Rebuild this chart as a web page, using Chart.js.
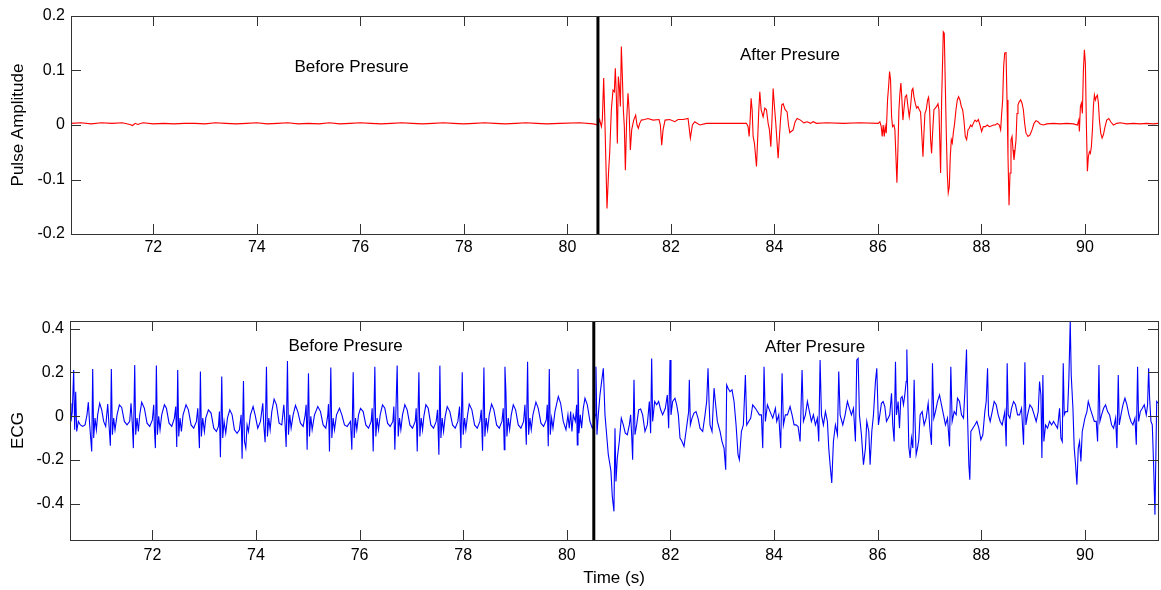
<!DOCTYPE html>
<html>
<head>
<meta charset="utf-8">
<script src="https://cdn.jsdelivr.net/npm/chart.js@4.4.1/dist/chart.umd.min.js"></script>
<style>
  html, body { margin: 0; padding: 0; background: #fff; }
  #wrap { position: relative; width: 1161px; height: 590px; }
  .box { position: absolute; left: 0; width: 1161px; }
</style>
</head>
<body>
<div id="wrap">
  <div class="box" style="top:0;height:290px"><canvas id="pulseChart" width="1161" height="290"></canvas></div>
  <div class="box" style="top:290px;height:300px"><canvas id="ecgChart" width="1161" height="300"></canvas></div>
</div>
<script>
// time axis (s)
var timeMin = 70.41;
var timeMax = 91.41;
var timeTicks = [72, 74, 76, 78, 80, 82, 84, 86, 88, 90];

// pulse amplitude axis
var pulseMin = -0.2;
var pulseMax = 0.2;
var pulseTicks = [-0.2, -0.1, 0, 0.1, 0.2];

// ecg axis
var ecgMin = -0.566;
var ecgMax = 0.435;
var ecgTicks = [-0.4, -0.2, 0, 0.2, 0.4];

// moment the pressure was applied
var pressTimePulse = 80.59;
var pressTimeEcg = 80.52;

// pulse signal [time, amplitude]
var pulsePoints = [
  [70.41,0.003],[70.6,0.004],[70.8,0.002],[71.0,0.004],[71.2,0.003],[71.4,0.004],[71.55,0.001],[71.6,-0.001],
  [71.65,0.003],[71.7,0.001],[71.8,0.004],[72.0,0.002],[72.2,0.003],[72.4,0.002],[72.6,0.003],[72.8,0.003],
  [73.0,0.002],[73.2,0.004],[73.4,0.003],[73.6,0.002],[73.8,0.003],[74.0,0.004],[74.2,0.002],[74.4,0.003],
  [74.6,0.004],[74.8,0.002],[75.0,0.003],[75.2,0.002],[75.4,0.004],[75.6,0.002],[75.8,0.003],[76.0,0.004],
  [76.2,0.003],[76.4,0.002],[76.6,0.003],[76.8,0.004],[77.0,0.003],[77.2,0.002],[77.4,0.003],[77.6,0.004],
  [77.8,0.003],[78.0,0.002],[78.2,0.003],[78.4,0.004],[78.6,0.003],[78.8,0.002],[79.0,0.003],[79.2,0.004],
  [79.4,0.003],[79.6,0.002],[79.85,0.003],[80.24,0.004],[80.5,0.002],
  [80.591,0.000],[80.623,0.010],[80.656,-0.003],[80.675,0.009],[80.701,0.086],[80.727,-0.003],[80.765,-0.153],
  [80.797,-0.083],[80.817,-0.052],[80.849,0.028],[80.881,0.064],[80.907,0.061],[80.926,0.104],[80.946,0.052],
  [80.965,-0.034],[80.984,0.089],[81.004,0.070],[81.023,0.034],[81.042,0.144],[81.062,0.089],[81.081,0.028],
  [81.100,-0.003],[81.120,-0.083],[81.145,0.009],[81.171,0.058],[81.191,0.028],[81.216,-0.046],[81.242,-0.009],
  [81.281,0.009],[81.319,0.018],[81.345,0.000],[81.371,-0.006],[81.397,0.003],[81.429,0.009],[81.493,0.010],
  [81.558,0.012],[81.655,0.009],[81.771,0.010],[81.796,0.000],[81.822,-0.037],[81.848,-0.009],[81.887,0.009],
  [81.977,0.010],[82.074,0.006],[82.138,0.010],[82.235,0.010],[82.331,0.012],[82.376,-0.024],[82.415,0.000],
  [82.460,0.006],[82.557,0.000],[82.686,0.003],[82.879,0.003],[83.201,0.003],[83.459,0.003],[83.491,-0.003],
  [83.511,-0.021],[83.530,0.009],[83.549,0.049],[83.569,0.028],[83.588,-0.021],[83.614,-0.034],[83.653,-0.076],
  [83.678,-0.021],[83.698,0.028],[83.717,0.061],[83.743,0.028],[83.781,0.015],[83.814,0.031],[83.846,0.028],
  [83.878,0.003],[83.904,-0.009],[83.930,-0.040],[83.955,0.015],[83.975,0.067],[84.000,0.034],[84.026,0.003],
  [84.052,-0.034],[84.071,-0.061],[84.097,-0.021],[84.117,0.009],[84.142,0.037],[84.168,0.039],[84.207,0.028],
  [84.245,0.024],[84.271,0.000],[84.297,-0.014],[84.361,-0.009],[84.400,0.006],[84.439,0.012],[84.503,0.009],
  [84.568,0.004],[84.632,0.006],[84.697,0.003],
  [84.748,0.006],[84.813,0.003],[85.006,0.004],[85.328,0.003],[85.650,0.004],[86.005,0.003],[86.037,0.006],
  [86.063,-0.003],[86.082,-0.021],[86.101,0.000],[86.121,-0.021],[86.140,-0.003],[86.160,-0.015],[86.185,0.046],
  [86.205,0.070],[86.224,0.098],[86.243,0.083],[86.263,0.015],[86.282,-0.003],[86.308,0.000],[86.327,-0.009],
  [86.347,-0.058],[86.366,-0.106],[86.385,-0.046],[86.405,0.028],[86.424,0.058],[86.443,0.077],[86.463,0.046],
  [86.482,0.009],[86.501,0.028],[86.527,0.052],[86.553,0.055],[86.579,0.034],[86.604,0.015],[86.630,0.034],
  [86.656,0.064],[86.675,0.067],[86.695,0.052],[86.720,0.040],[86.746,0.031],[86.772,0.034],[86.798,0.028],
  [86.823,0.024],[86.849,-0.021],[86.869,-0.058],[86.888,-0.015],[86.907,0.021],[86.933,0.028],[86.959,0.046],
  [86.978,0.051],[86.998,0.028],[87.017,-0.027],[87.036,-0.052],[87.055,-0.015],[87.081,0.028],[87.107,0.031],
  [87.133,0.034],[87.159,0.039],[87.178,0.028],[87.197,-0.040],[87.210,-0.088],[87.230,0.046],[87.249,0.119],
  [87.262,0.171],[87.281,0.168],[87.300,0.077],[87.320,-0.015],[87.339,-0.088],[87.358,-0.124],[87.378,-0.113],
  [87.397,-0.058],[87.417,-0.027],[87.436,-0.033],[87.455,-0.015],[87.481,0.003],[87.507,0.028],[87.533,0.046],
  [87.558,0.052],[87.584,0.046],[87.610,0.034],[87.636,0.028],[87.661,0.009],[87.687,-0.021],[87.713,-0.027],
  [87.739,-0.009],[87.764,-0.006],[87.790,0.000],[87.816,-0.003],[87.842,0.003],[87.874,0.009],[87.906,0.006],
  [87.938,0.010],[87.971,0.000],[88.003,-0.012],[88.035,-0.003],[88.074,-0.003],[88.112,0.000],[88.151,-0.003],
  [88.190,-0.002],[88.228,0.000],[88.267,0.000],[88.306,0.003],[88.345,0.000],[88.370,-0.009],[88.390,0.021],
  [88.409,0.046],[88.428,0.107],[88.448,0.132],[88.474,0.133],[88.493,0.046],[88.512,-0.058],[88.532,-0.147],
  [88.551,-0.088],[88.570,-0.027],[88.590,-0.021],[88.609,-0.046],[88.628,-0.064],[88.648,-0.046],[88.667,-0.027],
  [88.686,0.021],[88.705,0.037],[88.731,0.043],[88.757,0.046],[88.783,0.040],[88.809,0.028],[88.834,0.003],
  [88.860,-0.015],[88.899,-0.021],[88.937,-0.018],[88.976,-0.009],[89.015,0.003],[89.054,0.008],[89.092,0.006],
  [89.131,0.002],[89.195,0.000],[89.260,0.002],[89.389,0.003],[89.518,0.002],[89.646,0.003],[89.775,0.002],
  [89.853,0.000],[89.879,0.009],[89.891,-0.012],[89.911,0.034],[89.930,0.040],[89.949,0.021],[89.969,0.101],
  [89.988,0.138],[90.007,0.113],[90.027,-0.003],[90.046,-0.085],[90.065,-0.058],[90.085,-0.049],[90.104,-0.052],
  [90.123,-0.040],[90.143,-0.009],[90.162,0.034],[90.181,0.055],[90.201,0.046],[90.220,0.052],[90.239,0.055],
  [90.259,0.040],[90.278,0.009],[90.304,-0.015],[90.330,-0.024],[90.355,-0.018],[90.387,-0.003],[90.420,0.009],
  [90.459,0.012],[90.497,0.006],[90.549,0.000],[90.613,0.003],[90.678,0.004],[90.806,0.002],[90.935,0.003],
  [91.064,0.002],[91.193,0.003],[91.322,0.002],[91.41,0.003]
];

// ecg signal [time, value]
var ecgPoints = [
  [70.410,0.059],[70.429,-0.024],[70.455,0.021],[70.481,0.211],[70.500,-0.062],[70.520,0.112],[70.539,-0.070],
  [70.571,-0.024],[70.610,-0.040],[70.655,-0.047],[70.700,-0.040],[70.738,0.006],[70.764,0.064],[70.790,-0.040],
  [70.829,-0.161],[70.848,0.216],[70.867,-0.100],[70.893,-0.009],[70.919,-0.062],[70.944,0.006],[70.983,0.059],
  [71.022,0.029],[71.060,-0.024],[71.099,-0.047],[71.138,0.055],[71.163,-0.040],[71.189,-0.135],[71.208,0.216],
  [71.228,-0.085],[71.253,-0.009],[71.279,-0.062],[71.318,0.006],[71.363,0.052],[71.408,0.040],[71.459,-0.024],
  [71.511,-0.040],[71.562,-0.024],[71.588,0.059],[71.614,-0.040],[71.633,-0.146],[71.659,0.234],[71.678,-0.085],
  [71.704,-0.009],[71.730,-0.070],[71.756,0.006],[71.794,0.064],[71.846,0.036],[71.897,-0.032],[71.949,-0.047],
  [72.000,-0.017],[72.026,0.052],[72.039,-0.055],[72.058,-0.146],[72.077,0.231],[72.097,-0.085],[72.122,-0.001],
  [72.148,-0.062],[72.180,0.006],[72.232,0.052],[72.271,0.036],[72.322,-0.032],[72.374,-0.047],[72.425,-0.009],
  [72.451,0.044],[72.470,-0.141],[72.489,0.211],[72.509,-0.093],[72.534,-0.009],[72.560,-0.070],[72.592,0.006],
  [72.650,0.052],[72.695,0.029],[72.747,-0.040],[72.798,-0.055],[72.850,-0.024],[72.876,0.036],[72.908,-0.146],
  [72.927,0.204],[72.946,-0.093],[72.972,-0.009],[73.004,-0.070],[73.030,-0.009],[73.082,0.029],[73.133,0.014],
  [73.185,-0.055],[73.236,-0.070],[73.275,-0.047],[73.294,0.021],[73.313,-0.188],[73.339,0.181],[73.358,-0.100],
  [73.384,-0.024],[73.416,-0.078],[73.449,-0.009],[73.494,0.029],[73.539,0.006],[73.584,-0.062],[73.635,-0.078],
  [73.680,-0.062],[73.713,0.006],[73.732,-0.195],[73.758,0.161],[73.777,-0.116],[73.803,-0.146],[73.828,-0.040],
  [73.854,-0.070],[73.893,0.006],[73.944,0.044],[73.983,0.006],[74.034,-0.055],[74.086,-0.024],[74.131,0.059],
  [74.150,-0.040],[74.176,-0.119],[74.202,0.226],[74.221,-0.093],[74.247,-0.009],[74.273,-0.062],[74.305,0.021],
  [74.350,0.078],[74.395,0.052],[74.446,-0.032],[74.498,-0.040],[74.537,0.052],[74.562,-0.040],[74.582,-0.141],
  [74.607,0.252],[74.627,-0.085],[74.652,0.006],[74.678,-0.055],[74.717,0.006],[74.762,0.049],[74.807,0.021],
  [74.858,-0.032],[74.910,-0.047],[74.949,0.006],[74.968,0.052],[74.987,-0.153],[75.013,0.196],[75.032,-0.093],
  [75.058,-0.001],[75.084,-0.062],[75.129,0.006],[75.193,0.044],[75.245,0.021],[75.296,-0.040],[75.348,-0.055],
  [75.386,0.006],[75.399,0.055],[75.418,-0.161],[75.444,0.222],[75.464,-0.100],[75.489,-0.009],[75.515,-0.062],
  [75.554,0.006],[75.612,0.036],[75.657,0.006],[75.708,-0.040],[75.760,-0.047],
  [75.779,-0.040],[75.824,-0.024],[75.850,-0.153],[75.876,0.201],[75.895,-0.100],[75.921,-0.009],[75.946,-0.062],
  [75.979,0.006],[76.017,0.036],[76.069,0.021],[76.120,-0.040],[76.172,-0.055],[76.223,-0.024],[76.242,0.036],
  [76.262,-0.161],[76.294,0.226],[76.313,-0.093],[76.339,-0.009],[76.365,-0.062],[76.397,0.006],[76.442,0.052],
  [76.487,0.036],[76.539,-0.032],[76.590,-0.047],[76.642,-0.024],[76.661,0.044],[76.680,-0.153],[76.725,0.231],
  [76.745,-0.093],[76.770,-0.009],[76.796,-0.062],[76.828,0.006],[76.873,0.052],[76.918,0.029],[76.970,-0.040],
  [77.021,-0.055],[77.073,-0.024],[77.092,0.036],[77.112,-0.161],[77.144,0.201],[77.163,-0.093],[77.189,-0.009],
  [77.215,-0.062],[77.240,-0.001],[77.279,0.052],[77.324,0.036],[77.375,-0.040],[77.427,-0.055],[77.478,-0.024],
  [77.504,0.029],[77.530,-0.176],[77.549,0.231],[77.569,-0.100],[77.594,-0.009],[77.620,-0.070],[77.652,-0.001],
  [77.691,0.044],[77.742,0.021],[77.794,-0.040],[77.845,-0.055],[77.897,-0.024],[77.929,0.044],[77.955,-0.146],
  [77.981,0.201],[78.000,-0.085],[78.026,-0.009],[78.051,-0.062],[78.084,0.006],[78.116,0.055],[78.167,0.029],
  [78.219,-0.040],[78.270,-0.055],[78.322,-0.024],[78.348,0.029],[78.373,-0.158],[78.399,0.222],[78.418,-0.093],
  [78.444,-0.009],[78.470,-0.062],[78.502,0.006],[78.547,0.055],[78.592,0.029],[78.644,-0.040],[78.695,-0.055],
  [78.747,-0.024],[78.772,0.036],[78.792,-0.153],[78.805,0.226],[78.824,0.112],[78.843,-0.093],[78.869,-0.009],
  [78.895,-0.062],[78.927,0.006],[78.966,0.052],[79.011,0.029],[79.062,-0.040],[79.114,-0.055],[79.165,-0.024],
  [79.191,0.052],[79.217,-0.131],[79.242,0.249],[79.262,-0.085],[79.287,-0.009],[79.313,-0.062],[79.345,0.006],
  [79.403,0.064],[79.448,0.036],[79.500,-0.032],[79.551,-0.047],[79.603,-0.017],[79.622,0.052],[79.641,-0.138],
  [79.661,0.216],[79.680,-0.085],[79.706,-0.009],[79.732,-0.055],[79.770,0.021],[79.835,0.090],[79.880,0.059],
  [79.931,-0.024],[79.983,-0.062],[80.021,0.006],[80.047,-0.055],[80.073,0.021],[80.098,-0.070],[80.124,0.006],
  [80.163,-0.024],[80.189,0.052],[80.202,-0.131],[80.215,0.216],[80.234,-0.078],[80.259,0.006],[80.285,-0.055],
  [80.317,0.036],[80.350,0.082],[80.395,0.052],[80.446,-0.024],[80.491,-0.055],[80.523,-0.040],[80.549,0.006],
  [80.562,0.226],[80.581,-0.085],[80.607,0.006],[80.639,0.097],[80.671,0.158],[80.704,0.219],
  [80.736,0.006],[80.768,-0.085],[80.800,-0.176],[80.832,-0.222],[80.851,-0.252],[80.877,-0.366],[80.909,-0.435],
  [80.929,-0.055],[80.948,-0.298],[80.974,-0.191],[81.012,-0.116],[81.051,-0.009],[81.090,-0.040],[81.128,-0.078],
  [81.167,-0.085],[81.206,-0.040],[81.231,0.006],[81.251,-0.085],[81.270,-0.199],[81.296,0.166],[81.315,-0.085],
  [81.347,-0.040],[81.386,0.029],[81.424,0.033],[81.463,0.006],[81.508,-0.070],[81.553,-0.040],[81.592,0.067],
  [81.617,-0.078],[81.637,0.264],[81.656,-0.024],[81.695,0.067],[81.733,0.052],[81.772,0.067],[81.811,0.029],
  [81.849,0.006],[81.901,0.036],[81.939,0.097],[81.965,-0.055],[81.991,0.257],[82.010,0.006],[82.042,0.067],
  [82.087,0.082],[82.120,0.052],[82.152,0.006],[82.184,-0.100],[82.223,-0.116],[82.261,-0.138],[82.300,-0.070],
  [82.326,-0.024],[82.351,0.021],[82.364,0.166],[82.384,-0.040],[82.416,-0.009],[82.454,0.014],[82.493,0.021],
  [82.532,-0.009],[82.570,-0.055],[82.622,-0.070],[82.667,0.006],[82.699,0.067],[82.725,0.219],[82.744,0.067],
  [82.763,-0.040],[82.802,-0.070],[82.841,0.128],[82.866,0.067],[82.905,-0.024],[82.957,-0.070],[82.995,-0.116],
  [83.034,-0.146],[83.066,-0.245],[83.085,0.143],[83.111,0.128],[83.150,0.112],[83.188,0.120],[83.227,0.067],
  [83.266,-0.040],[83.304,-0.176],[83.330,-0.199],[83.369,-0.070],[83.407,-0.040],[83.446,0.188],[83.472,-0.040],
  [83.510,-0.024],[83.549,-0.009],[83.587,0.052],[83.639,0.036],[83.678,0.021],[83.716,0.006],[83.755,0.006],
  [83.781,-0.146],[83.806,0.226],[83.832,-0.024],[83.871,0.052],[83.922,0.021],[83.974,-0.009],[84.025,0.036],
  [84.051,-0.024],[84.090,0.006],[84.128,-0.146],[84.154,0.196],[84.180,-0.040],[84.218,0.006],[84.257,0.006],
  [84.308,0.044],[84.347,0.006],[84.386,-0.040],[84.424,-0.040],[84.463,-0.047],[84.502,-0.116],[84.540,0.211],
  [84.566,-0.024],[84.605,0.006],[84.643,0.067],[84.682,0.021],[84.720,-0.024],[84.759,0.006],[84.798,-0.040],
  [84.836,-0.009],[84.862,-0.116],[84.888,0.257],[84.914,0.006],[84.952,-0.040],[84.991,0.021],[85.029,-0.024],
  [85.055,-0.146],[85.081,-0.222],[85.113,-0.305],[85.145,-0.116],[85.184,-0.040],[85.223,-0.085],[85.248,0.204],
  [85.274,0.006],[85.326,-0.040],[85.371,0.006],[85.416,0.067],[85.454,0.036],[85.493,0.006],[85.532,0.036],
  [85.570,-0.116],[85.596,0.257],[85.622,0.264],[85.647,0.006],[85.686,-0.085],[85.725,-0.222],[85.763,-0.146],
  [85.789,-0.024],[85.828,-0.070],[85.853,-0.222],[85.886,-0.070],[85.918,0.006],[85.956,0.158],[85.982,0.219],
  [86.014,-0.040],
  [86.072,0.059],[86.105,0.067],[86.137,0.044],[86.169,-0.024],[86.201,-0.009],[86.233,0.006],[86.266,0.105],
  [86.291,-0.040],[86.317,-0.116],[86.343,0.249],[86.362,0.006],[86.394,0.067],[86.420,-0.055],[86.446,0.082],
  [86.472,0.090],[86.497,0.052],[86.523,0.097],[86.549,0.158],[86.562,0.305],[86.581,0.082],[86.600,-0.138],
  [86.626,-0.191],[86.652,-0.100],[86.678,-0.146],[86.703,0.166],[86.723,-0.040],[86.742,-0.176],[86.768,-0.146],
  [86.793,-0.108],[86.819,0.006],[86.858,0.021],[86.896,-0.040],[86.935,-0.009],[86.974,0.059],[87.006,-0.055],
  [87.038,-0.131],[87.057,0.242],[87.083,-0.009],[87.115,0.021],[87.154,0.067],[87.193,0.097],[87.231,0.052],
  [87.270,0.006],[87.308,-0.040],[87.347,-0.009],[87.386,-0.138],[87.411,0.226],[87.437,-0.024],[87.476,0.021],
  [87.514,0.006],[87.540,0.082],[87.579,0.067],[87.617,0.006],[87.656,-0.009],[87.682,0.112],[87.714,0.305],
  [87.733,0.006],[87.759,-0.222],[87.778,-0.290],[87.798,-0.070],[87.836,-0.055],[87.875,-0.040],[87.914,-0.024],
  [87.952,-0.055],[87.991,-0.108],[88.029,-0.085],[88.068,0.021],[88.094,0.067],[88.120,0.219],[88.139,0.006],
  [88.171,-0.024],[88.210,0.021],[88.248,0.067],[88.287,0.052],[88.326,0.006],[88.364,-0.024],[88.403,-0.040],
  [88.454,0.021],[88.480,-0.138],[88.499,0.242],[88.519,0.006],[88.551,-0.009],[88.583,0.036],[88.622,0.067],
  [88.660,0.052],[88.699,0.006],[88.738,0.006],[88.776,0.036],[88.815,-0.131],[88.841,0.246],[88.860,-0.040],
  [88.892,0.006],[88.937,0.052],[88.982,0.036],[89.021,0.006],[89.059,-0.024],[89.098,0.021],[89.124,0.158],
  [89.150,0.097],[89.169,-0.191],[89.188,0.188],[89.207,-0.116],[89.240,-0.040],[89.278,-0.055],[89.317,-0.024],
  [89.356,-0.040],[89.394,-0.024],[89.433,-0.040],[89.471,-0.055],[89.510,0.036],[89.536,-0.100],[89.562,-0.116],
  [89.581,0.242],[89.600,0.006],[89.626,0.021],[89.665,0.021],[89.690,0.173],[89.716,0.435],[89.735,0.188],
  [89.768,0.036],[89.793,-0.146],[89.819,-0.222],[89.845,-0.313],[89.871,-0.146],[89.896,-0.116],[89.922,-0.207],
  [89.948,-0.070],[89.974,-0.040],[89.999,-0.009],[90.038,0.021],[90.064,0.067],[90.102,0.036],[90.141,0.006],
  [90.180,-0.024],[90.218,-0.024],[90.244,-0.116],[90.270,0.234],[90.289,-0.024],[90.321,0.006],[90.360,0.036],
  [90.398,0.052],[90.437,0.021],[90.476,0.006],[90.514,-0.040],[90.553,-0.055],[90.592,-0.009],[90.617,-0.146],
  [90.643,0.188],[90.662,-0.040],[90.695,0.006],[90.733,0.052],[90.772,0.082],[90.810,0.052],[90.849,0.006],
  [90.888,-0.024],[90.926,-0.040],[90.965,-0.009],[90.991,-0.131],[91.016,0.226],[91.036,-0.024],[91.068,0.021],
  [91.107,0.036],[91.145,0.052],[91.184,0.006],[91.209,0.052],[91.229,0.219],[91.248,0.082],[91.274,-0.024],
  [91.300,-0.040],[91.325,-0.222],[91.351,-0.450],[91.385,0.067],[91.41,0.060]
];

// text notes placed in data units
var pulseNotes = [
  { text: "Before Presure", x: 75.83, y: 0.106 },
  { text: "After Presure", x: 84.30, y: 0.127 }
];
var ecgNotes = [
  { text: "Before Presure", x: 75.73, y: 0.321 },
  { text: "After Presure", x: 84.79, y: 0.316 }
];

Chart.defaults.font.family = '"Liberation Sans", Arial, sans-serif';
Chart.defaults.color = "#000";

function toXY(pts) {
  return pts.map(function (p) { return { x: p[0], y: p[1] }; });
}

// inward tick marks and axes box, like the matlab figure
var frameTicks = {
  id: "frameTicks",
  afterDraw: function (chart) {
    var ctx = chart.ctx;
    var a = chart.chartArea;
    var xs = chart.scales.x;
    var ys = chart.scales.y;
    ctx.save();
    ctx.strokeStyle = "#333";
    ctx.lineWidth = 1;
    ctx.beginPath();
    xs.ticks.forEach(function (t) {
      var px = Math.round(xs.getPixelForValue(t.value)) + 0.5;
      ctx.moveTo(px, a.top);
      ctx.lineTo(px, a.top + 10);
      ctx.moveTo(px, a.bottom);
      ctx.lineTo(px, a.bottom - 10);
    });
    ys.ticks.forEach(function (t) {
      var py = Math.round(ys.getPixelForValue(t.value)) + 0.5;
      ctx.moveTo(a.left, py);
      ctx.lineTo(a.left + 10, py);
      ctx.moveTo(a.right, py);
      ctx.lineTo(a.right - 10, py);
    });
    ctx.stroke();
    ctx.strokeRect(Math.round(a.left) + 0.5, Math.round(a.top) + 0.5,
      Math.round(a.right - a.left), Math.round(a.bottom - a.top));
    ctx.restore();
  }
};

var notes = {
  id: "notes",
  afterDatasetsDraw: function (chart, args, opts) {
    var ctx = chart.ctx;
    ctx.save();
    ctx.font = '17px "Liberation Sans", Arial, sans-serif';
    ctx.fillStyle = "#000";
    ctx.textAlign = "center";
    ctx.textBaseline = "middle";
    (opts.items || []).forEach(function (n) {
      ctx.fillText(n.text, chart.scales.x.getPixelForValue(n.x), chart.scales.y.getPixelForValue(n.y));
    });
    ctx.restore();
  }
};

function makeChart(id, cfg) {
  return new Chart(document.getElementById(id), {
    type: "line",
    data: {
      datasets: [
        {
          data: [{ x: cfg.press, y: cfg.yMin }, { x: cfg.press, y: cfg.yMax }],
          borderColor: "#000",
          borderWidth: 3,
          pointRadius: 0
        },
        {
          data: toXY(cfg.points),
          borderColor: cfg.color,
          borderWidth: 1.1,
          pointRadius: 0,
          tension: 0
        }
      ]
    },
    options: {
      responsive: false,
      animation: false,
      events: [],
      layout: { padding: { top: cfg.padTop, right: 3, left: 0, bottom: 0 } },
      plugins: {
        legend: { display: false },
        tooltip: { enabled: false },
        notes: { items: cfg.notes }
      },
      scales: {
        x: {
          type: "linear",
          min: timeMin,
          max: timeMax,
          afterBuildTicks: function (s) { s.ticks = timeTicks.map(function (v) { return { value: v }; }); },
          afterFit: function (s) { s.height = cfg.xHeight; },
          grid: { display: false, drawTicks: false },
          border: { display: false },
          ticks: { font: { size: 16 }, padding: cfg.xPad, maxRotation: 0, autoSkip: false,
            callback: function (v) { return String(v); } },
          title: { display: !!cfg.xTitle, text: cfg.xTitle || "", font: { size: 17 }, padding: { top: 0, bottom: 1 } }
        },
        y: {
          min: cfg.yMin,
          max: cfg.yMax,
          afterBuildTicks: function (s) { s.ticks = cfg.yTicks.map(function (v) { return { value: v }; }); },
          afterFit: function (s) { s.width = cfg.yWidth; },
          grid: { display: false, drawTicks: false },
          border: { display: false },
          ticks: { font: { size: 16 }, padding: 6, callback: function (v) { return String(v); } },
          title: { display: true, text: cfg.yTitle, font: { size: 17 }, padding: { top: 8, bottom: 0 } }
        }
      }
    },
    plugins: [frameTicks, notes]
  });
}

makeChart("pulseChart", {
  points: pulsePoints, color: "#ff0000", press: pressTimePulse,
  yMin: pulseMin, yMax: pulseMax, yTicks: pulseTicks,
  yTitle: "Pulse Amplitude", notes: pulseNotes,
  padTop: 16, xHeight: 56, yWidth: 71, xPad: 4
});

makeChart("ecgChart", {
  points: ecgPoints, color: "#0000ff", press: pressTimeEcg,
  yMin: ecgMin, yMax: ecgMax, yTicks: ecgTicks,
  yTitle: "ECG", xTitle: "Time (s)", notes: ecgNotes,
  padTop: 31, xHeight: 50, yWidth: 70, xPad: 6
});
</script>
</body>
</html>
